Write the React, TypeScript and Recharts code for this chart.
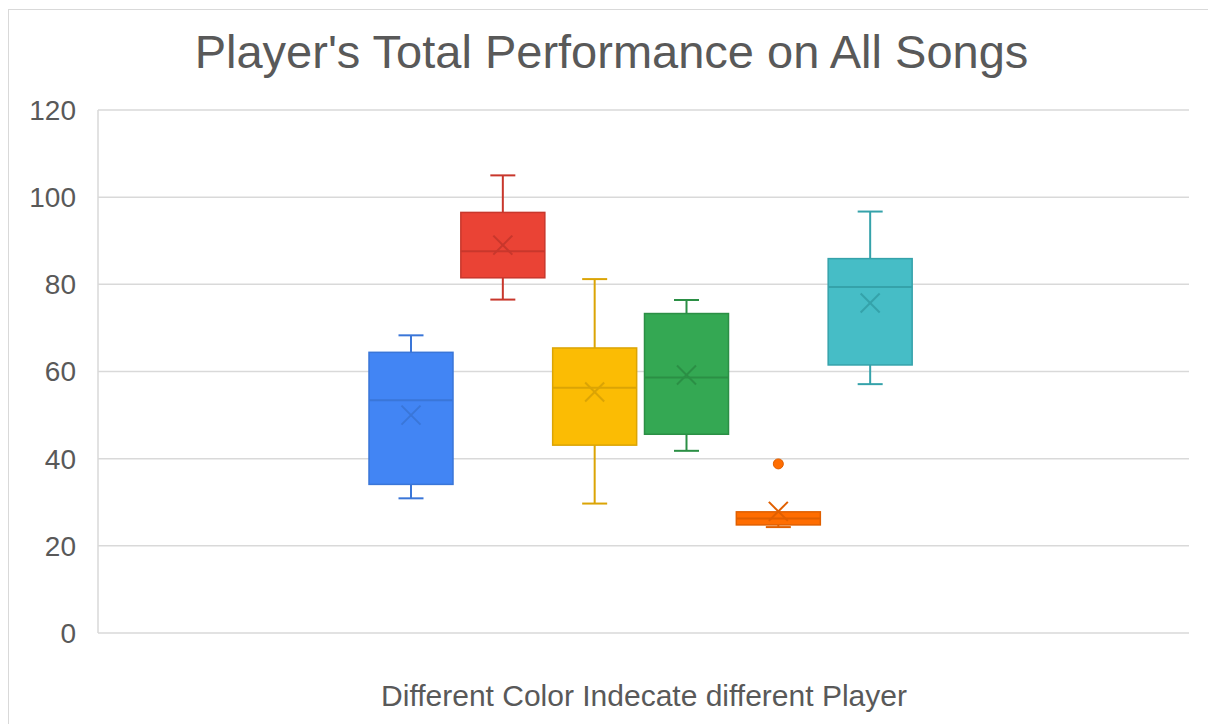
import { BarChart, Bar, XAxis, YAxis, CartesianGrid } from 'recharts';

// values (score scale 0-120)
const players = ['Player 1', 'Player 2', 'Player 3', 'Player 4', 'Player 5', 'Player 6'];
const whiskerLow = [30.9, 76.5, 29.7, 41.8, 24.3, 57.1];
const quartile1 = [34.1, 81.5, 43.1, 45.6, 24.8, 61.5];
const medians = [53.4, 87.6, 56.3, 58.6, 26.3, 79.4];
const quartile3 = [64.4, 96.5, 65.4, 73.3, 27.8, 85.9];
const whiskerHigh = [68.3, 105, 81.2, 76.4, 27.8, 96.7];
const means = [50, 89, 55.3, 59.2, 27.9, 75.7];
const outliers: number[][] = [[], [], [], [], [38.8], []];
const yTicks = [0, 20, 40, 60, 80, 100, 120];

const fills = ['#4285f4', '#ea4335', '#fbbc04', '#34a853', '#ff6d01', '#46bdc6'];
const strokes = ['#3a76d8', '#c8372c', '#dba405', '#2b8f45', '#e05f00', '#35a2aa'];

const data = players.map((name, i) => ({
  name,
  low: whiskerLow[i],
  q1: quartile1[i],
  median: medians[i],
  q3: quartile3[i],
  high: whiskerHigh[i],
  mean: means[i],
  outliers: outliers[i],
}));

const textColor = '#595959';
const font = '"Liberation Sans", Arial, sans-serif';

function BoxShape(props: any) {
  const { x, y, width, height, payload, index } = props;
  const top = Math.min(y, y + height);
  const bottom = Math.max(y, y + height);
  const d = payload;
  const span = d.high - d.low;
  const toY = (v: number) => bottom - ((v - d.low) * (bottom - top)) / span;
  const cx = x + width / 2;
  const fill = fills[index % fills.length];
  const stroke = strokes[index % strokes.length];
  const cap = 12.5;
  const xs = 9.5;
  const yMean = toY(d.mean);

  return (
    <g>
      {d.high > d.q3 && (
        <g stroke={stroke} strokeWidth={2}>
          <line x1={cx} x2={cx} y1={toY(d.high)} y2={toY(d.q3)} />
          <line x1={cx - cap} x2={cx + cap} y1={toY(d.high)} y2={toY(d.high)} />
        </g>
      )}
      {d.low < d.q1 && (
        <g stroke={stroke} strokeWidth={2}>
          <line x1={cx} x2={cx} y1={toY(d.q1)} y2={toY(d.low)} />
          <line x1={cx - cap} x2={cx + cap} y1={toY(d.low)} y2={toY(d.low)} />
        </g>
      )}
      <rect
        x={x}
        y={toY(d.q3)}
        width={width}
        height={toY(d.q1) - toY(d.q3)}
        fill={fill}
        stroke={stroke}
        strokeWidth={1.5}
      />
      <line x1={x} x2={x + width} y1={toY(d.median)} y2={toY(d.median)} stroke={stroke} strokeWidth={2} />
      <g stroke={stroke} strokeWidth={2}>
        <line x1={cx - xs} x2={cx + xs} y1={yMean - xs} y2={yMean + xs} />
        <line x1={cx - xs} x2={cx + xs} y1={yMean + xs} y2={yMean - xs} />
      </g>
      {d.outliers.map((v: number, k: number) => (
        <circle key={k} cx={cx} cy={toY(v)} r={5} fill={fill} stroke={stroke} strokeWidth={1} />
      ))}
    </g>
  );
}

export default function App() {
  return (
    <div style={{ position: 'relative', width: 1208, height: 724, overflow: 'hidden', background: '#fff' }}>
      <style>{'body{margin:0;overflow:hidden;}'}</style>
      <div
        style={{
          position: 'absolute',
          left: 8,
          top: 9,
          width: 1230,
          height: 740,
          border: '1px solid #d9d9d9',
        }}
      />
      <div style={{ position: 'absolute', left: 9, top: 10 }}>
        <BarChart
          width={1210}
          height={720}
          data={data}
          margin={{ top: 100, right: 30, bottom: 97, left: 0 }}
          barSize={84}
        >
          <CartesianGrid vertical={false} stroke="#d9d9d9" strokeWidth={1.5} />
          <XAxis dataKey="name" hide padding={{ left: 267, right: 273 }} />
          <YAxis
            width={89}
            domain={[0, 120]}
            ticks={yTicks}
            interval={0}
            axisLine={{ stroke: '#d9d9d9', strokeWidth: 1.5 }}
            tickLine={false}
            tickSize={0}
            tickMargin={22}
            tick={{ fill: textColor, fontSize: 28, fontFamily: font }}
          />
          <Bar
            dataKey={(d: any) => [d.low, d.high]}
            shape={BoxShape}
            activeBar={false}
            isAnimationActive={false}
          />
        </BarChart>
      </div>
      <div
        style={{
          position: 'absolute',
          left: 0,
          top: 28,
          width: 1223,
          textAlign: 'center',
          fontFamily: font,
          fontSize: 47,
          lineHeight: '47px',
          color: textColor,
          whiteSpace: 'nowrap',
        }}
      >
        Player's Total Performance on All Songs
      </div>
      <div
        style={{
          position: 'absolute',
          left: 98,
          top: 681,
          width: 1092,
          textAlign: 'center',
          fontFamily: font,
          fontSize: 30,
          lineHeight: '30px',
          color: textColor,
          whiteSpace: 'nowrap',
        }}
      >
        Different Color Indecate different Player
      </div>
    </div>
  );
}
